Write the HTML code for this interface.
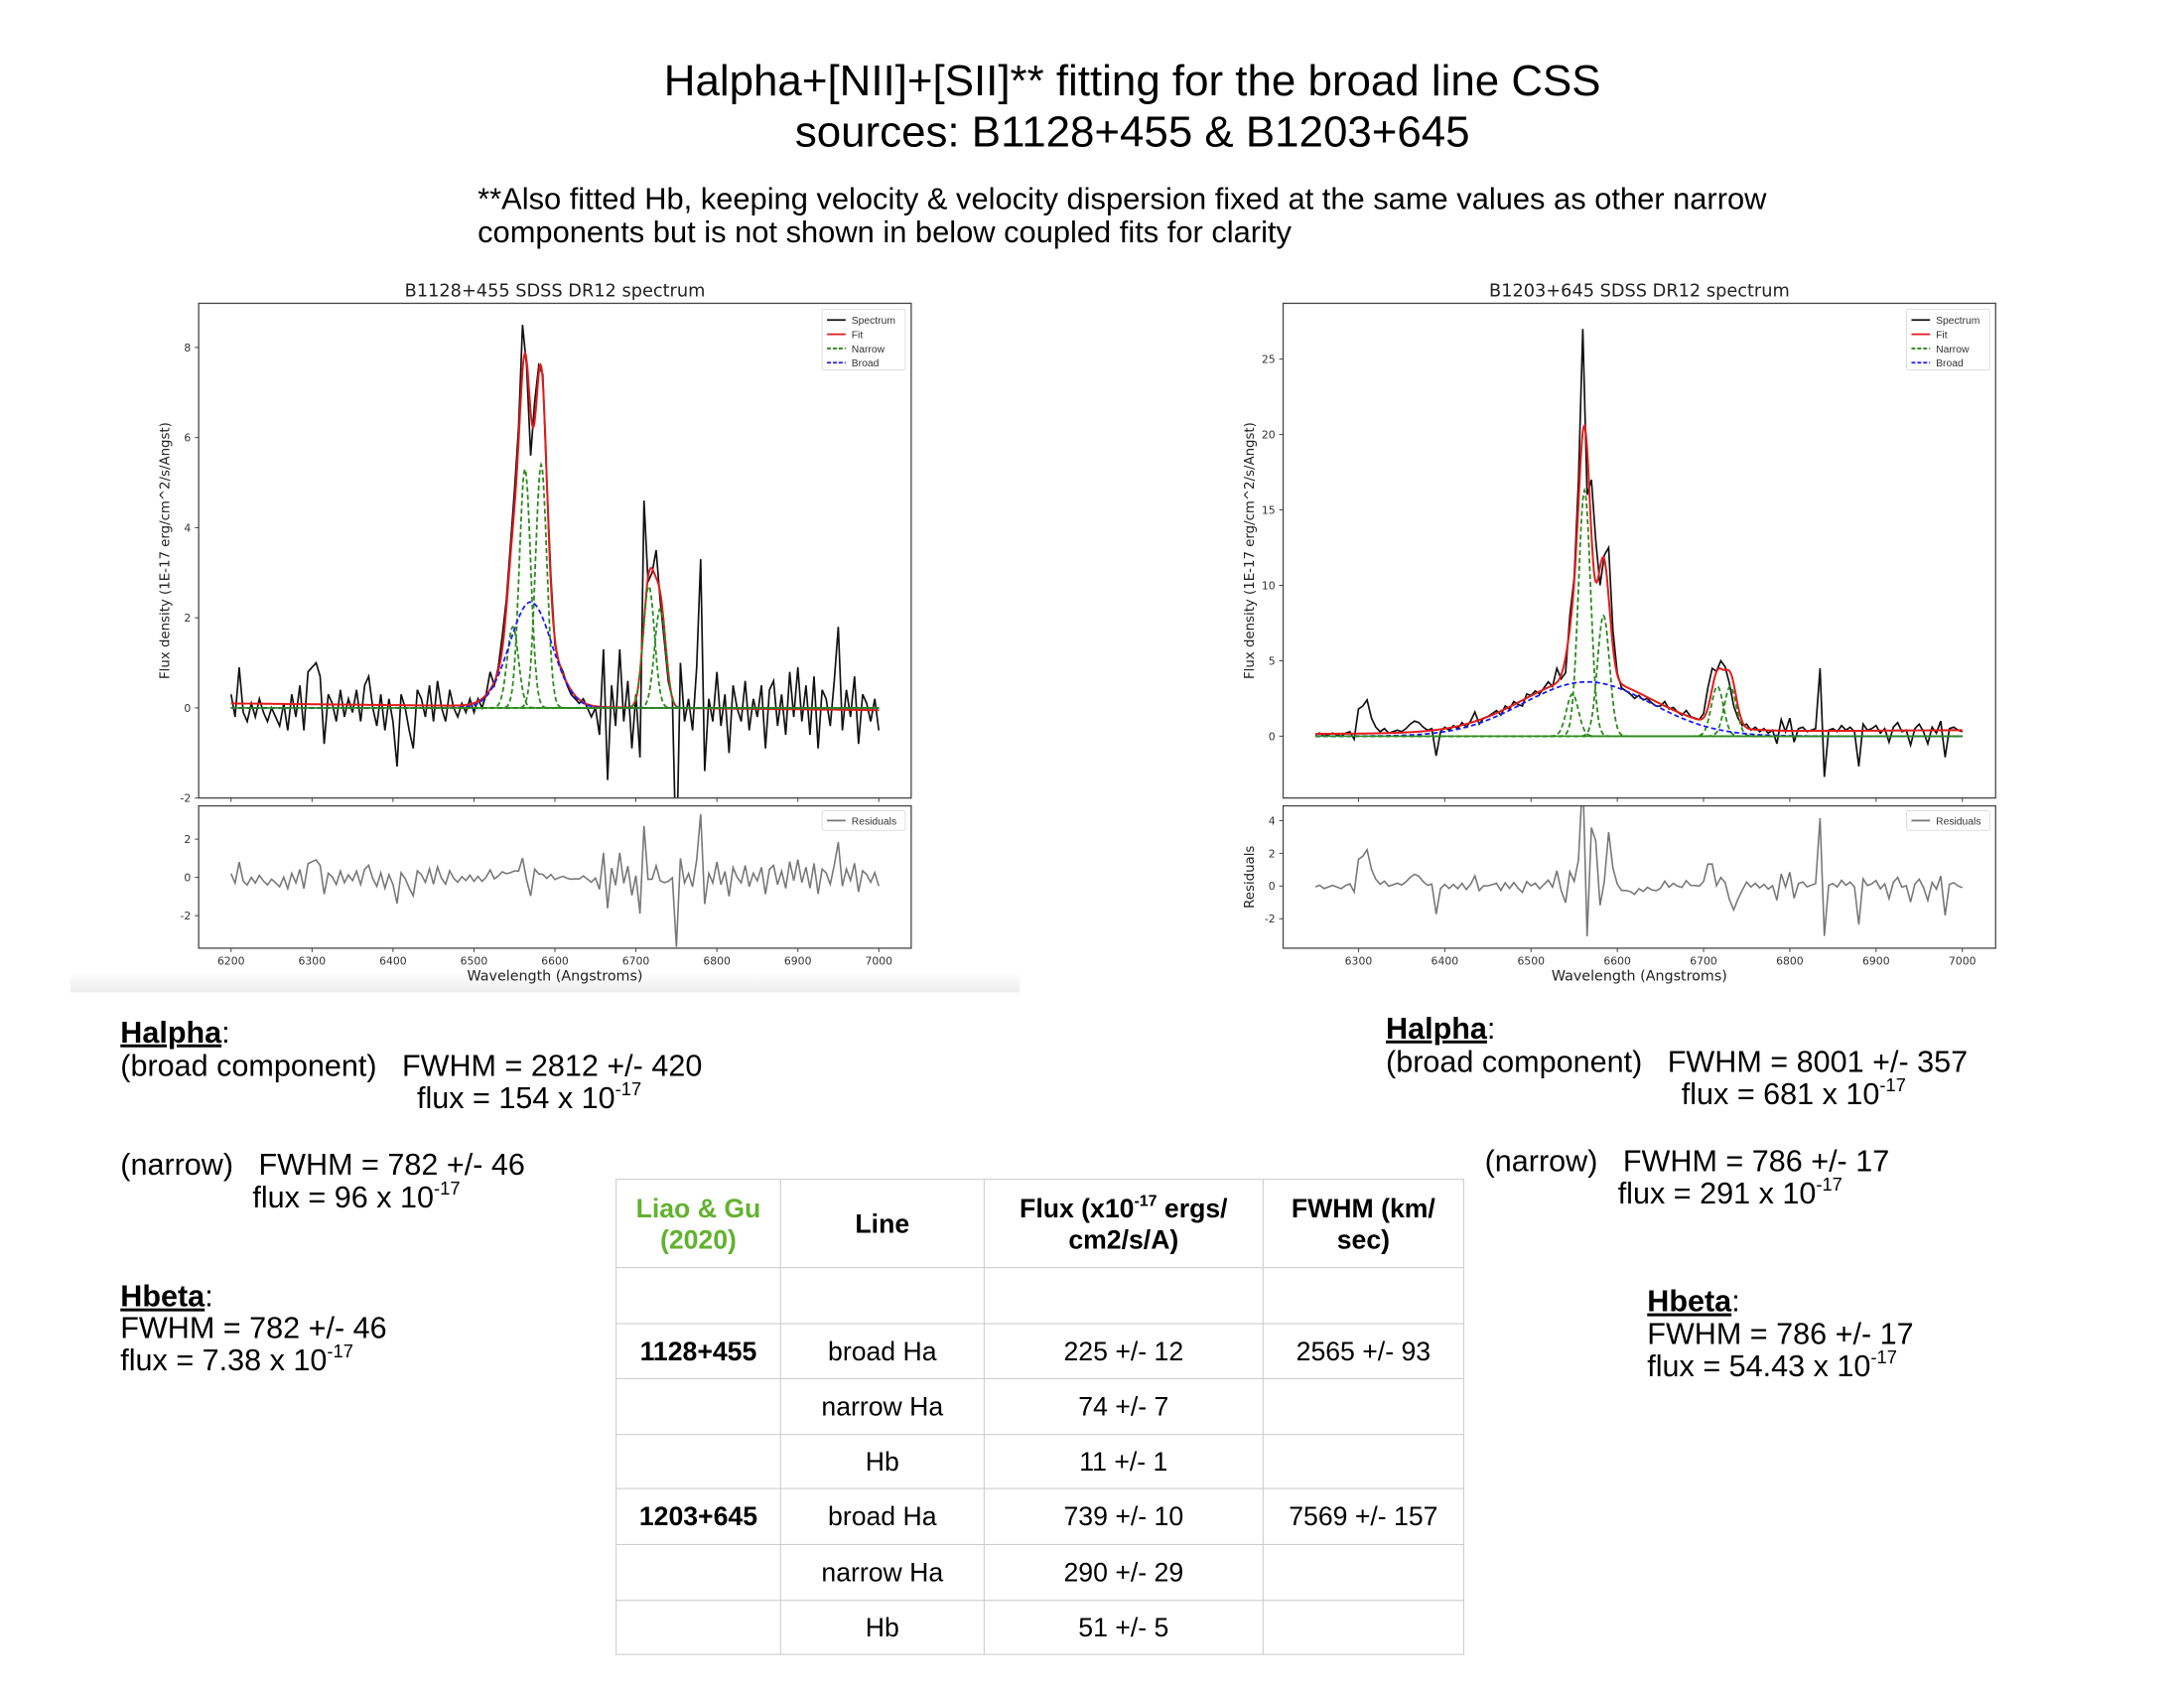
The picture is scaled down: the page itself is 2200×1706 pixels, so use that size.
<!DOCTYPE html>
<html><head><meta charset="utf-8">
<style>
body{margin:0;width:2200px;height:1700px;background:#fff;position:relative;overflow:hidden;font-family:"Liberation Sans",sans-serif;color:#000}
#wrap{position:absolute;left:0;top:0;width:2232px;height:1725px;transform:translateY(1px) scale(0.9859,0.9885);transform-origin:0 0}
.t{position:absolute;white-space:pre;font-size:31px;line-height:34px}
.u{text-decoration:underline;font-weight:bold}
sup{font-size:0.6em;line-height:0;vertical-align:0.7em}
table{position:absolute;left:629px;top:1200px;border-collapse:collapse;font-size:27px}
td{border:1.5px solid #c8c8c8;text-align:center;padding:0;line-height:32px}
</style></head><body>
<div id="wrap">
<div style="position:absolute;left:0;top:56px;width:2314px;text-align:center;font-size:44.5px;line-height:52px">Halpha+[NII]+[SII]** fitting for the broad line CSS<br>sources: B1128+455 &amp; B1203+645</div>
<div class="t" style="left:488px;top:185px;font-size:31.3px">**Also fitted Hb, keeping velocity &amp; velocity dispersion fixed at the same values as other narrow
components but is not shown in below coupled fits for clarity</div>
<div style="position:absolute;left:72px;top:990px;width:970px;height:20px;background:linear-gradient(#fff,#ececec)"></div>

<svg id="chart" width="2232" height="1725" style="position:absolute;left:0;top:0" xmlns="http://www.w3.org/2000/svg"></svg>

<div class="t" style="left:123px;top:1034px"><span class="u">Halpha</span>:</div>
<div class="t" style="left:123px;top:1068px">(broad component)   FWHM = 2812 +/- 420</div>
<div class="t" style="left:426px;top:1101px">flux = 154 x 10<sup>-17</sup></div>
<div class="t" style="left:123px;top:1169px">(narrow)   FWHM = 782 +/- 46</div>
<div class="t" style="left:258px;top:1202px">flux = 96 x 10<sup>-17</sup></div>
<div class="t" style="left:123px;top:1303px"><span class="u">Hbeta</span>:</div>
<div class="t" style="left:123px;top:1335px">FWHM = 782 +/- 46</div>
<div class="t" style="left:123px;top:1368px">flux = 7.38 x 10<sup>-17</sup></div>

<div class="t" style="left:1416px;top:1030px"><span class="u">Halpha</span>:</div>
<div class="t" style="left:1416px;top:1064px">(broad component)   FWHM = 8001 +/- 357</div>
<div class="t" style="left:1718px;top:1097px">flux = 681 x 10<sup>-17</sup></div>
<div class="t" style="left:1517px;top:1165px">(narrow)   FWHM = 786 +/- 17</div>
<div class="t" style="left:1653px;top:1198px">flux = 291 x 10<sup>-17</sup></div>
<div class="t" style="left:1683px;top:1308px"><span class="u">Hbeta</span>:</div>
<div class="t" style="left:1683px;top:1341px">FWHM = 786 +/- 17</div>
<div class="t" style="left:1683px;top:1374px">flux = 54.43 x 10<sup>-17</sup></div>

<table>
<tr style="height:90px;font-weight:bold"><td style="width:167px;color:#62b22f">Liao &amp; Gu<br>(2020)</td><td style="width:207px">Line</td><td style="width:284px">Flux (x10<sup>-17</sup> ergs/<br>cm2/s/A)</td><td style="width:204px">FWHM (km/<br>sec)</td></tr>
<tr style="height:57px"><td></td><td></td><td></td><td></td></tr>
<tr style="height:56px"><td style="font-weight:bold">1128+455</td><td>broad Ha</td><td>225 +/- 12</td><td>2565 +/- 93</td></tr>
<tr style="height:57px"><td></td><td>narrow Ha</td><td>74 +/- 7</td><td></td></tr>
<tr style="height:55px"><td></td><td>Hb</td><td>11 +/- 1</td><td></td></tr>
<tr style="height:57px"><td style="font-weight:bold">1203+645</td><td>broad Ha</td><td>739 +/- 10</td><td>7569 +/- 157</td></tr>
<tr style="height:57px"><td></td><td>narrow Ha</td><td>290 +/- 29</td><td></td></tr>
<tr style="height:55px"><td></td><td>Hb</td><td>51 +/- 5</td><td></td></tr>
</table>
</div>

<script>
// ---- Left spectrum B1128+455 (6200..7000 step 5) ----
const leftStart = 6200, leftStep = 5;
const leftFlux = [
0.3,-0.2,0.9,-0.1,-0.3,0.1,-0.2,0.2,-0.1,-0.3,
0.0,-0.2,-0.4,0.1,-0.5,0.3,-0.2,0.5,-0.5,0.8,
0.9,1.0,0.7,-0.8,0.3,0.1,-0.3,0.4,-0.2,0.2,
-0.1,0.4,-0.3,0.5,0.7,0.0,-0.4,0.3,-0.5,0.2,
-0.3,-1.3,0.3,0.0,-0.5,-0.9,0.4,0.2,-0.2,0.5,
-0.3,0.6,0.0,-0.3,0.4,0.0,-0.2,0.1,-0.1,0.2,
-0.1,0.2,0.0,0.3,0.8,0.5,0.9,1.6,2.4,3.6,
4.8,6.2,8.5,7.6,5.6,6.8,7.6,7.4,5.0,2.9,
1.4,1.0,0.8,0.5,0.3,0.2,0.1,0.2,0.0,-0.2,
0.0,-0.6,1.3,-1.6,0.5,-0.4,1.3,-0.3,0.6,-0.9,
0.3,-1.1,4.6,2.8,3.0,3.5,2.4,1.5,0.6,0.2,
-3.6,1.0,-0.3,0.2,-0.5,0.9,3.3,-1.4,0.2,-0.3,
0.8,-0.4,0.3,-1.0,0.5,0.0,-0.3,0.6,-0.5,0.2,
-0.2,0.5,-0.9,0.4,0.6,-0.4,0.3,-0.6,0.8,-0.2,
0.9,-0.3,0.5,-0.6,0.7,-0.9,0.4,0.2,-0.4,0.6,
1.8,-0.5,0.4,-0.2,0.7,-0.8,0.3,0.1,-0.3,0.2,
-0.5];
const leftNarrowCenters = [6548,6563,6583,6716,6730];
const leftNarrowAmps = [1.8,5.3,5.4,2.7,2.2];
const leftNarrowSigma = [7];
const leftBroadCenter = [6570];
const leftBroadAmp = [2.35];
const leftBroadSigma = [26];
const leftContinuum = [0.1,-0.05];
const leftYTicks = [-2,0,2,4,6,8];
const leftResTicks = [-2,0,2];
const leftXTicks = [6200,6300,6400,6500,6600,6700,6800,6900,7000];

// ---- Right spectrum B1203+645 (6250..7000 step 5) ----
const rightStart = 6250, rightStep = 5;
const rightFlux = [
0.1,0.2,0.0,0.1,0.2,0.1,0.0,0.2,0.3,-0.2,
1.8,2.0,2.4,1.2,0.6,0.3,0.5,0.2,0.3,0.4,
0.3,0.5,0.8,1.0,0.9,0.6,0.4,0.5,-1.3,0.3,
0.6,0.4,0.7,0.5,0.9,0.6,1.0,1.6,0.8,1.2,
1.3,1.5,1.7,1.4,2.0,1.8,2.3,2.1,2.0,2.8,
2.7,3.0,2.8,3.2,3.6,3.3,4.5,3.8,4.2,8.0,
10.5,17,27,16,17,13,10,12,12.5,7,
4.2,3.2,3.0,2.8,2.5,2.7,2.4,2.5,2.2,2.0,
2.0,2.3,1.8,1.9,1.6,1.4,1.7,1.3,1.2,1.1,
1.5,3.2,4.5,4.3,5.0,4.6,3.5,2.0,1.2,0.7,
0.8,0.4,0.6,0.3,0.5,0.2,0.4,-0.5,1.1,0.3,
1.2,-0.4,0.5,0.6,0.3,0.4,0.5,4.5,-2.7,0.4,
0.5,0.3,0.7,0.4,0.6,0.3,-2.0,0.8,0.4,0.5,
0.7,0.2,0.5,-0.4,0.6,0.9,0.3,0.4,-0.6,0.5,
0.8,0.3,-0.5,0.6,0.2,1.0,-1.4,0.5,0.6,0.4,
0.3];
const rightNarrowCenters = [6548,6562,6584,6716,6731];
const rightNarrowAmps = [2.8,16.3,8.0,3.3,3.3];
const rightNarrowSigma = [7];
const rightBroadCenter = [6565];
const rightBroadAmp = [3.6];
const rightBroadSigma = [74];
const rightContinuum = [0.15,0.4];
const rightYTicks = [0,5,10,15,20,25];
const rightResTicks = [-2,0,2,4];
const rightXTicks = [6300,6400,6500,6600,6700,6800,6900,7000];

const NS = "http://www.w3.org/2000/svg";
const svg = document.getElementById('chart');
function mk(tag, attrs, parent){const e=document.createElementNS(NS,tag);for(const k in attrs)e.setAttribute(k,attrs[k]);(parent||svg).appendChild(e);return e;}
function gauss(x,a,c,s){return a*Math.exp(-(x-c)*(x-c)/(2*s*s));}

function drawChart(cfg){
  const g = mk('g',{});
  
  
  const X = v => cfg.box[0] + (v-cfg.xlim[0])/(cfg.xlim[1]-cfg.xlim[0])*(cfg.box[1]-cfg.box[0]);
  const Y = v => cfg.main[1] - (v-cfg.ylim[0])/(cfg.ylim[1]-cfg.ylim[0])*(cfg.main[1]-cfg.main[0]);
  const R = v => cfg.res[1] - (v-cfg.rlim[0])/(cfg.rlim[1]-cfg.rlim[0])*(cfg.res[1]-cfg.res[0]);
  const n = cfg.flux.length;
  const x0 = cfg.start, x1 = cfg.start + (n-1)*cfg.step;
  const cont = x => cfg.cont[0] + (cfg.cont[1]-cfg.cont[0])*(x-x0)/(x1-x0);
  const broad = x => gauss(x,cfg.bAmp[0],cfg.bC[0],cfg.bS[0]);
  const narrow = (x,i) => gauss(x,cfg.nAmp[i],cfg.nC[i],cfg.nS[0]);
  const fit = x => { let s = cont(x)+broad(x); for(let i=0;i<cfg.nC.length;i++) s+=narrow(x,i); return s; };
  const cid = cfg.name+'-clip', rid = cfg.name+'-rclip';
  const defs = mk('defs',{},g);
  const c1 = mk('clipPath',{id:cid},defs); mk('rect',{x:cfg.box[0],y:cfg.main[0],width:cfg.box[1]-cfg.box[0],height:cfg.main[1]-cfg.main[0]},c1);
  const c2 = mk('clipPath',{id:rid},defs); mk('rect',{x:cfg.box[0],y:cfg.res[0],width:cfg.box[1]-cfg.box[0],height:cfg.res[1]-cfg.res[0]},c2);
  const t = mk('text',{x:(cfg.box[0]+cfg.box[1])/2,y:cfg.main[0]-7,'text-anchor':'middle','font-size':18,fill:'#222','font-family':'DejaVu Sans, sans-serif'},g);
  t.textContent = cfg.title;
  
  
  const mg = mk('g',{'clip-path':'url(#'+cid+')'},g);
  let d=''; cfg.flux.forEach((v,i)=>{d+=(i?'L':'M')+X(x0+i*cfg.step).toFixed(1)+','+Y(v).toFixed(1);});
  const sp = mk('path',{d:d,fill:'none',stroke:'#111','stroke-width':1.7},mg);
  
  
  let df='',dn=[],db='';
  for(let i=0;i<cfg.nC.length;i++) dn.push('');
  for(let x=x0;x<=x1;x+=1){
    df+=(x===x0?'M':'L')+X(x).toFixed(1)+','+Y(fit(x)).toFixed(1);
    db+=(x===x0?'M':'L')+X(x).toFixed(1)+','+Y(broad(x)).toFixed(1);
    for(let i=0;i<cfg.nC.length;i++) dn[i]+=(x===x0?'M':'L')+X(x).toFixed(1)+','+Y(narrow(x,i)).toFixed(1);
  }
  const fl = mk('path',{d:df,fill:'none',stroke:'#e41a1a','stroke-width':2},mg);
  
  
  dn.forEach(p=>{const e=mk('path',{d:p,fill:'none',stroke:'#2a8a1a','stroke-width':1.8,'stroke-dasharray':'5,3'},mg);
    
    });
  const bl = mk('path',{d:db,fill:'none',stroke:'#1a1aff','stroke-width':1.8,'stroke-dasharray':'5,3'},mg);
  
  
  mk('line',{x1:X(x0),x2:X(x1),y1:Y(0),y2:Y(0),stroke:'#2a8a1a','stroke-width':1.6},mg);
  let dr=''; cfg.flux.forEach((v,i)=>{const x=x0+i*cfg.step;dr+=(i?'L':'M')+X(x).toFixed(1)+','+R(v-fit(x)).toFixed(1);});
  const rl = mk('path',{d:dr,fill:'none',stroke:'#777','stroke-width':1.6,'clip-path':'url(#'+rid+')'},g);
  
  
  mk('rect',{x:cfg.box[0],y:cfg.main[0],width:cfg.box[1]-cfg.box[0],height:cfg.main[1]-cfg.main[0],fill:'none',stroke:'#444','stroke-width':1.3},g);
  mk('rect',{x:cfg.box[0],y:cfg.res[0],width:cfg.box[1]-cfg.box[0],height:cfg.res[1]-cfg.res[0],fill:'none',stroke:'#444','stroke-width':1.3},g);
  const fs = {'font-size':11,fill:'#333','font-family':'DejaVu Sans, sans-serif'};
  cfg.yt.forEach(v=>{const y=Y(v);mk('line',{x1:cfg.box[0]-4,x2:cfg.box[0],y1:y,y2:y,stroke:'#444'},g);
    const e=mk('text',Object.assign({x:cfg.box[0]-8,y:y+4,'text-anchor':'end'},fs),g);e.textContent=v;});
  cfg.rt.forEach(v=>{const y=R(v);mk('line',{x1:cfg.box[0]-4,x2:cfg.box[0],y1:y,y2:y,stroke:'#444'},g);
    const e=mk('text',Object.assign({x:cfg.box[0]-8,y:y+4,'text-anchor':'end'},fs),g);e.textContent=v;});
  cfg.xt.forEach(v=>{const x=X(v);
    mk('line',{x1:x,x2:x,y1:cfg.main[1],y2:cfg.main[1]+4,stroke:'#444'},g);
    mk('line',{x1:x,x2:x,y1:cfg.res[1],y2:cfg.res[1]+4,stroke:'#444'},g);
    const e=mk('text',Object.assign({x:x,y:cfg.res[1]+17,'text-anchor':'middle'},fs),g);e.textContent=v;});
  const xl=mk('text',{x:(cfg.box[0]+cfg.box[1])/2,y:cfg.res[1]+33,'text-anchor':'middle','font-size':14.5,fill:'#222','font-family':'DejaVu Sans, sans-serif'},g);
  xl.textContent='Wavelength (Angstroms)';
  
  
  const ym=(cfg.main[0]+cfg.main[1])/2;
  const yl=mk('text',{x:cfg.box[0]-30,y:ym,'text-anchor':'middle','font-size':13.5,fill:'#222','font-family':'DejaVu Sans, sans-serif',transform:'rotate(-90 '+(cfg.box[0]-30)+' '+ym+')'},g);
  yl.textContent='Flux density (1E-17 erg/cm^2/s/Angst)';
  
  
  if(cfg.resLabel){const rm=(cfg.res[0]+cfg.res[1])/2;
    const e=mk('text',{x:cfg.box[0]-30,y:rm,'text-anchor':'middle','font-size':13.5,fill:'#222','font-family':'DejaVu Sans, sans-serif',transform:'rotate(-90 '+(cfg.box[0]-30)+' '+rm+')'},g);
    e.textContent='Residuals';
    
    }
  const lx=cfg.box[1]-91, ly=cfg.main[0]+6;
  const lg=mk('g',{},g);
  
  
  mk('rect',{x:lx,y:ly,width:85,height:62,fill:'#fff',stroke:'#ddd',rx:2},lg);
  const items=[['Spectrum','#111',''],['Fit','#e41a1a',''],['Narrow','#2a8a1a','4,2'],['Broad','#1a1aff','4,2']];
  items.forEach((it,i)=>{const y=ly+11+i*14.5;
    mk('line',{x1:lx+5,x2:lx+24,y1:y,y2:y,stroke:it[1],'stroke-width':1.8,'stroke-dasharray':it[2]},lg);
    const e=mk('text',{x:lx+30,y:y+4,'font-size':10.5,fill:'#333','font-family':'Liberation Sans Narrow, Liberation Sans, sans-serif'},lg);e.textContent=it[0];});
  mk('rect',{x:lx,y:cfg.res[0]+5,width:85,height:20,fill:'#fff',stroke:'#ddd',rx:2},g);
  mk('line',{x1:lx+5,x2:lx+24,y1:cfg.res[0]+15,y2:cfg.res[0]+15,stroke:'#777','stroke-width':1.8},g);
  const re=mk('text',{x:lx+30,y:cfg.res[0]+19,'font-size':10.5,fill:'#333','font-family':'Liberation Sans Narrow, Liberation Sans, sans-serif'},g);re.textContent='Residuals';
}

drawChart({name:'left-chart',title:'B1128+455 SDSS DR12 spectrum',box:[203,931],main:[308,812],res:[820,965],
  xlim:[6160,7040],ylim:[-2,8.98],rlim:[-3.7,3.74],flux:leftFlux,start:leftStart,step:leftStep,
  nC:leftNarrowCenters,nAmp:leftNarrowAmps,nS:leftNarrowSigma,bC:leftBroadCenter,bAmp:leftBroadAmp,bS:leftBroadSigma,
  cont:leftContinuum,yt:leftYTicks,rt:leftResTicks,xt:leftXTicks,resLabel:false});
drawChart({name:'right-chart',title:'B1203+645 SDSS DR12 spectrum',box:[1311,2039],main:[308,812],res:[820,965],
  xlim:[6212.6,7038.6],ylim:[-4.1,28.7],rlim:[-3.8,4.9],flux:rightFlux,start:rightStart,step:rightStep,
  nC:rightNarrowCenters,nAmp:rightNarrowAmps,nS:rightNarrowSigma,bC:rightBroadCenter,bAmp:rightBroadAmp,bS:rightBroadSigma,
  cont:rightContinuum,yt:rightYTicks,rt:rightResTicks,xt:rightXTicks,resLabel:true});
</script>
</body></html>
